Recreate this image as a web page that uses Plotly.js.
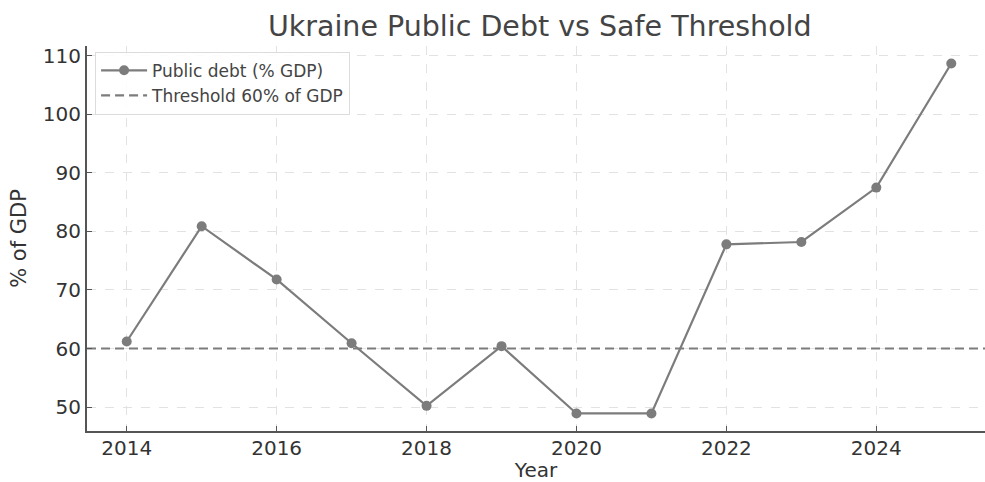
<!DOCTYPE html>
<html>
<head>
<meta charset="utf-8">
<script src="https://cdn.plot.ly/plotly-3.0.1.min.js"></script>
<style>html,body{margin:0;padding:0;background:#fff;}#chart{width:985px;height:482px;}</style>
</head>
<body>
<div id="chart"></div>
<script>
const years = [2014, 2015, 2016, 2017, 2018, 2019, 2020, 2021, 2022, 2023, 2024, 2025];
const debtPct = [61.2, 80.9, 71.8, 60.9, 50.2, 60.4, 48.9, 48.9, 77.8, 78.2, 87.5, 108.7];
const thresholdPct = 60;
const xTicks = [2014, 2016, 2018, 2020, 2022, 2024];
const yTicks = [50, 60, 70, 80, 90, 100, 110];
const xRange = [2013.47, 2025.45];
const yRange = [45.9, 111.7];

const font = "DejaVu Sans, sans-serif";

const traces = [
  {
    x: years, y: debtPct, type: 'scatter', mode: 'lines+markers',
    name: 'Public debt (% GDP)',
    line: {color: '#7c7c7c', width: 2.2},
    marker: {color: '#7c7c7c', size: 10}
  },
  {
    x: xRange, y: [thresholdPct, thresholdPct], type: 'scatter', mode: 'lines',
    name: 'Threshold 60% of GDP',
    line: {color: '#7c7c7c', width: 2.2, dash: '9px,5px'}
  }
];

const layout = {
  width: 985, height: 482,
  margin: {l: 87, r: 0, t: 46, b: 51},
  paper_bgcolor: '#fff', plot_bgcolor: '#fff',
  font: {family: font, color: '#333', size: 20},
  title: {text: 'Ukraine Public Debt vs Safe Threshold', x: 0.548, xanchor: 'center', y: 0.945, yanchor: 'middle', font: {family: font, size: 28.5, color: '#444'}},
  showlegend: true,
  legend: {x: 0.009, y: 0.985, xanchor: 'left', yanchor: 'top', bgcolor: 'rgba(255,255,255,0.9)', bordercolor: '#dcdcdc', borderwidth: 1, font: {family: font, size: 17, color: '#444'}, tracegroupgap: 0, itemwidth: 46},
  xaxis: {
    range: xRange, tickvals: xTicks, ticktext: xTicks.map(String),
    showgrid: true, gridcolor: '#e2e2e2', griddash: 'dash', gridwidth: 1,
    zeroline: false, showline: true, linecolor: '#555', linewidth: 2,
    ticks: 'inside', ticklen: 5, tickcolor: '#555', ticklabelstandoff: -2,
    tickfont: {family: font, size: 20, color: '#333'},
    title: {text: 'Year', font: {family: font, size: 20, color: '#333'}, standoff: 3}
  },
  yaxis: {
    range: yRange, tickvals: yTicks,
    showgrid: true, gridcolor: '#e2e2e2', griddash: 'dash', gridwidth: 1,
    zeroline: false, showline: true, linecolor: '#555', linewidth: 2,
    ticks: 'inside', ticklen: 5, tickcolor: '#555',
    tickfont: {family: font, size: 20, color: '#333'},
    title: {text: '% of GDP', font: {family: font, size: 21, color: '#333'}, standoff: 10}
  }
};

Plotly.newPlot('chart', traces, layout, {displayModeBar: false, staticPlot: true});
</script>
</body>
</html>
